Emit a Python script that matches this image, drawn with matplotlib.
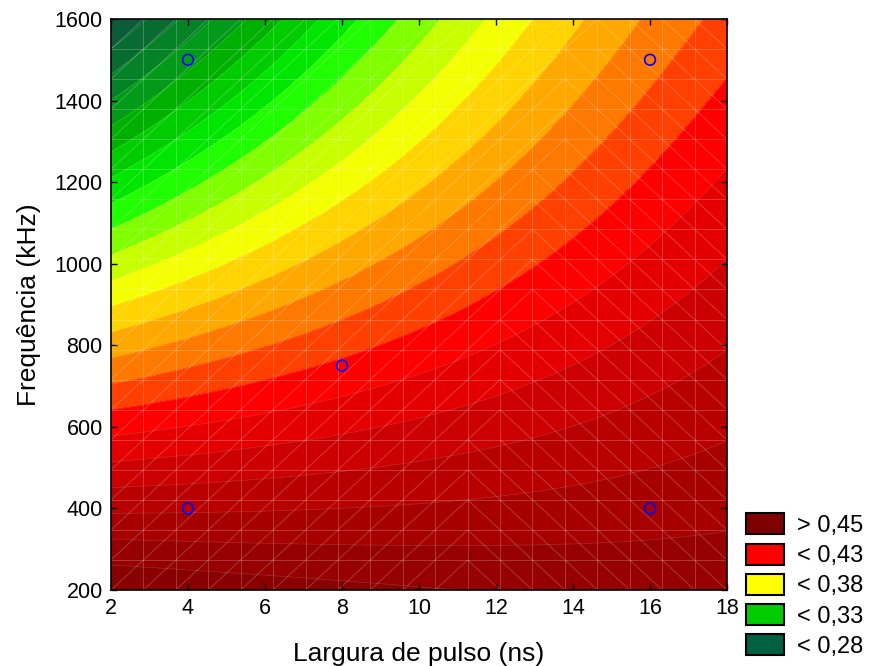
import numpy as np
import matplotlib.pyplot as plt
from matplotlib.patches import Patch
from matplotlib.collections import LineCollection

plt.rcParams['font.family'] = ['Liberation Sans', 'DejaVu Sans']

# fitted surface (x = pulse width in ns, y = frequency in kHz)
# z = b0 + b1*x + b11*x^2 + y*(b2 + b12*x + b112*x^2) + k*(x-2)(18-x)(y-800)(y-200)/64
b0 = 0.52773
b1 = -0.0033321
b11 = 5.473e-5
b2 = -1.7551e-4
b12 = 8.9425e-6
b112 = -9.4e-8
k = 7.0e-9

# design points
pulse_pts = [4, 4, 8, 16, 16]
freq_pts = [400, 1500, 750, 1500, 400]

# contour levels and the colour of each band (below first level ... above last)
levels = [0.28, 0.29, 0.30, 0.31, 0.32, 0.33, 0.34, 0.35, 0.36, 0.37, 0.38,
          0.39, 0.40, 0.41, 0.42, 0.43, 0.44, 0.45, 0.46, 0.47, 0.48, 0.49]
band_cols = ["#0b5a3a", "#086c30", "#058226", "#029a18", "#00b000", "#00cc00",
             "#00e600", "#20ff00", "#80ff00", "#c8ff00", "#f4ff00", "#ffd400",
             "#ffa800", "#ff7800", "#ff4000", "#ff0000", "#e40000", "#cc0000",
             "#b80000", "#a60000", "#960000", "#880000", "#800000"]

legend_labels = ["> 0,45", "< 0,43", "< 0,38", "< 0,33", "< 0,28"]
legend_cols = ["#800000", "#ff0000", "#ffff00", "#00cc00", "#006040"]

xmin, xmax = 2, 18
ymin, ymax = 200, 1600

xs = np.linspace(xmin, xmax, 400)
ys = np.linspace(ymin, ymax, 400)
X, Y = np.meshgrid(xs, ys)
Z = (b0 + b1 * X + b11 * X**2 + Y * (b2 + b12 * X + b112 * X**2)
     + k * (X - 2) * (18 - X) * (Y - 800) * (Y - 200) / 64)

lev = np.concatenate([[Z.min() - 1], levels, [Z.max() + 1]])

fig = plt.figure(figsize=(8.76, 6.66), dpi=100)
ax = fig.add_axes([111 / 876, 1 - 590 / 666, 616 / 876, 571 / 666])

ax.contourf(X, Y, Z, levels=lev, colors=band_cols)
ax.contour(X, Y, Z, levels=levels, colors="white", linewidths=0.5, alpha=0.18)

# faint triangulated mesh of the surface
gx = np.linspace(xmin, xmax, 20)
gy = np.linspace(ymin, ymax, 20)
segs = [[(x, ymin), (x, ymax)] for x in gx] + [[(xmin, y), (xmax, y)] for y in gy]
for i in range(19):
    for j in range(19):
        x0, x1 = gx[i], gx[i + 1]
        y0, y1 = gy[j], gy[j + 1]
        split = 10.5 + 3.5 * (y0 - ymin) / (ymax - ymin)
        if x0 >= split:
            segs.append([(x0, y1), (x1, y0)])
        else:
            segs.append([(x0, y0), (x1, y1)])
ax.add_collection(LineCollection(segs, colors="white", linewidths=0.7, alpha=0.22))

ax.scatter(pulse_pts, freq_pts, s=60, facecolors="none", edgecolors="#0000ff",
           linewidths=1.2, zorder=5)

ax.set_xlim(xmin, xmax)
ax.set_ylim(ymin, ymax)
ax.set_xticks(np.arange(2, 19, 2))
ax.set_yticks(np.arange(200, 1601, 200))
ax.tick_params(direction="in", length=4, width=1, top=True, right=True,
               labelsize=15.5, pad=6)
for s in ax.spines.values():
    s.set_linewidth(1.2)
ax.set_xlabel("Largura de pulso (ns)", fontsize=19, labelpad=16)
ax.set_ylabel("Frequência (kHz)", fontsize=19, labelpad=10)

handles = [Patch(facecolor=c, edgecolor="black", linewidth=1.5) for c in legend_cols]
fig.legend(handles, legend_labels, loc="lower left",
           bbox_to_anchor=(746 / 876, 8 / 666), frameon=False, fontsize=17,
           handlelength=1.6, handleheight=1.0, handletextpad=0.55,
           labelspacing=0.28, borderpad=0, borderaxespad=0)

fig.savefig("out.png", dpi=100)
